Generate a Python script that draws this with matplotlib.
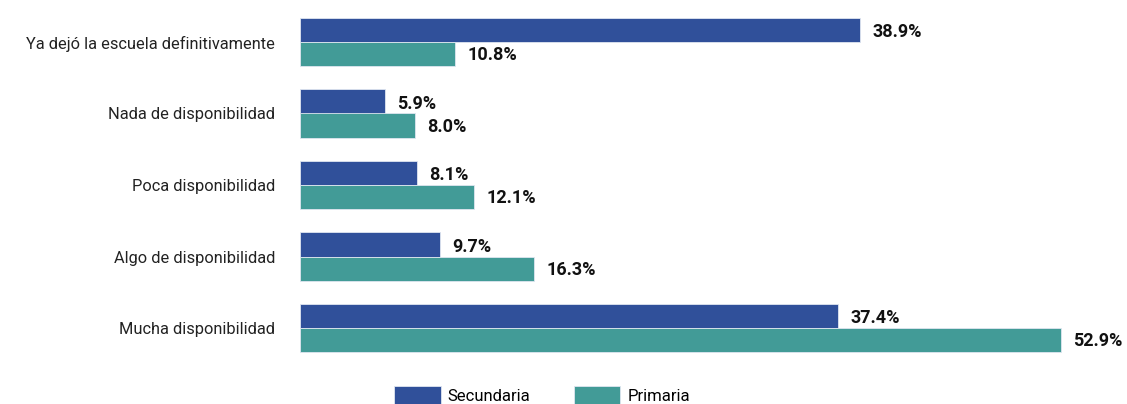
import matplotlib.pyplot as plt
import numpy as np

plt.rcParams['font.family'] = ['Roboto', 'DejaVu Sans']

# Data (top to bottom as in the chart)
categories = ["Ya dejó la escuela definitivamente", "Nada de disponibilidad",
              "Poca disponibilidad", "Algo de disponibilidad", "Mucha disponibilidad"]
secundaria = [38.9, 5.9, 8.1, 9.7, 37.4]
primaria = [10.8, 8.0, 12.1, 16.3, 52.9]

c_sec = "#30509a"
c_pri = "#429b97"

fig = plt.figure(figsize=(11.27, 4.04), dpi=100)
ax = fig.add_axes([300/1127, 40.25/404, 863/1127, 357.5/404])

y = np.arange(len(categories))[::-1]
h = 0.336
ax.barh(y + h/2, secundaria, height=h, color=c_sec, edgecolor="#dfe6f0", linewidth=0.6, label="Secundaria")
ax.barh(y - h/2, primaria, height=h, color=c_pri, edgecolor="#dfe6f0", linewidth=0.6, label="Primaria")

for yi, s, p in zip(y, secundaria, primaria):
    ax.annotate(f"{s:.1f}%", (s, yi + h/2), xytext=(9, -1.5), textcoords="offset points",
                va="center", ha="left", fontsize=13, fontweight="bold", color="#111111")
    ax.annotate(f"{p:.1f}%", (p, yi - h/2), xytext=(9, -1), textcoords="offset points",
                va="center", ha="left", fontsize=13, fontweight="bold", color="#111111")

ax.set_xlim(0, 60)
ax.set_ylim(-0.5, 4.5)
ax.set_yticks(y)
ax.set_yticklabels(categories, fontsize=11.8, color="#222222")
ax.tick_params(axis="y", length=0, pad=18)
ax.set_xticks([])
for sp in ax.spines.values():
    sp.set_visible(False)

fig.legend(loc="center", bbox_to_anchor=(0.481, 0.02), ncol=2, frameon=False,
           fontsize=12, handlelength=2.8, handleheight=1.45, handletextpad=0.42,
           columnspacing=2.6, borderpad=0)

plt.savefig("out.png", dpi=100)
